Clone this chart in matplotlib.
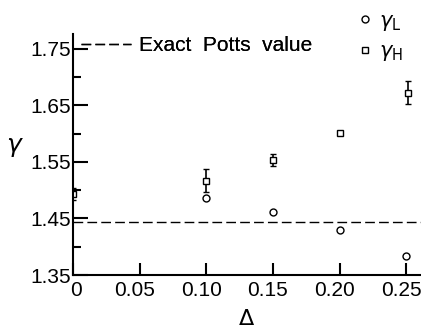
import matplotlib
matplotlib.use('Agg')
import matplotlib.pyplot as plt
import matplotlib.transforms as mtransforms
from matplotlib.lines import Line2D
import numpy as np

# data
delta_L = [0.10, 0.15, 0.20, 0.25]
gamma_L = [1.486, 1.462, 1.429, 1.383]

delta_H = [0.0, 0.10, 0.15, 0.20, 0.251]
gamma_H = [1.493, 1.517, 1.553, 1.601, 1.672]
err_H = [0.010, 0.020, 0.010, 0.0, 0.020]

potts = 13 / 9.0  # exact Potts value

xticks = [0, 0.05, 0.10, 0.15, 0.20, 0.25]
xticklabels = ['0', '0.05', '0.10', '0.15', '0.20', '0.25']
yticks = [1.35, 1.45, 1.55, 1.65, 1.75]
yticklabels = ['1.35', '1.45', '1.55', '1.65', '1.75']
yminor = [1.40, 1.50, 1.60, 1.70]

plt.rcParams['font.family'] = ['Liberation Sans', 'DejaVu Sans']
plt.rcParams['mathtext.fontset'] = 'dejavusans'

fig = plt.figure(figsize=(4.21, 3.31), dpi=100)
ax = fig.add_axes([0.173, 0.169, 0.827, 0.727])

ax.axhline(potts, color='black', lw=1.0, dashes=(7, 3), label='Exact  Potts  value')

ax.plot(delta_L, gamma_L, 'o', mfc='white', mec='black', ms=5, mew=1.0)
err = [e if e > 0 else np.nan for e in err_H]
ax.errorbar(delta_H, gamma_H, yerr=err, fmt='s', mfc='white', mec='black', ms=5,
            mew=1.0, ecolor='black', elinewidth=1.2, capsize=2.2, capthick=1.2)

ax.set_xlim(0, 0.261)
ax.set_ylim(1.35, 1.775)

for s in ['top', 'right']:
    ax.spines[s].set_visible(False)
for s in ['left', 'bottom']:
    ax.spines[s].set_linewidth(1.5)

ax.set_xticks(xticks)
ax.set_xticklabels(xticklabels)
ax.set_yticks(yticks)
ax.set_yticklabels(yticklabels)
ax.set_yticks(yminor, minor=True)
ax.tick_params(axis='x', direction='in', length=9, width=1.5, labelsize=15, pad=4)
ax.tick_params(axis='y', which='major', direction='in', length=11, width=1.5, labelsize=15, pad=1)
ax.tick_params(axis='y', which='minor', direction='in', length=6, width=1.5)

# labels in the original sit a little off their ticks
shift_left = mtransforms.ScaledTranslation(-5 / 100, 0, fig.dpi_scale_trans)
shift_right = mtransforms.ScaledTranslation(3 / 100, 0, fig.dpi_scale_trans)
labs = ax.get_xticklabels()
labs[0].set_transform(labs[0].get_transform() + shift_right)
for lab in labs[1:]:
    lab.set_transform(lab.get_transform() + shift_left)

ax.set_xlabel(r'$\Delta$', fontsize=16, labelpad=7)
ax.set_ylabel(r'$\gamma$', fontsize=18, rotation=0, va='center')
ax.yaxis.set_label_coords(-0.167, 0.532)

leg1 = ax.legend(loc='center left', bbox_to_anchor=(0.0, 0.952), frameon=False,
                 fontsize=15, handlelength=2.4, handletextpad=0.4, borderaxespad=0)
ax.add_artist(leg1)

handles = [Line2D([], [], ls='none', marker='o', mfc='white', mec='black', ms=5, mew=1.0),
           Line2D([], [], ls='none', marker='s', mfc='white', mec='black', ms=5, mew=1.0)]
fig.legend(handles, [r'$\gamma_{\rm L}$', r'$\gamma_{\rm H}$'], loc='center left',
           bbox_to_anchor=(0.827, 0.887), frameon=False, fontsize=15,
           handlelength=0.8, handletextpad=0.3, labelspacing=0.45, borderaxespad=0)

fig.savefig('out.png', dpi=100)
